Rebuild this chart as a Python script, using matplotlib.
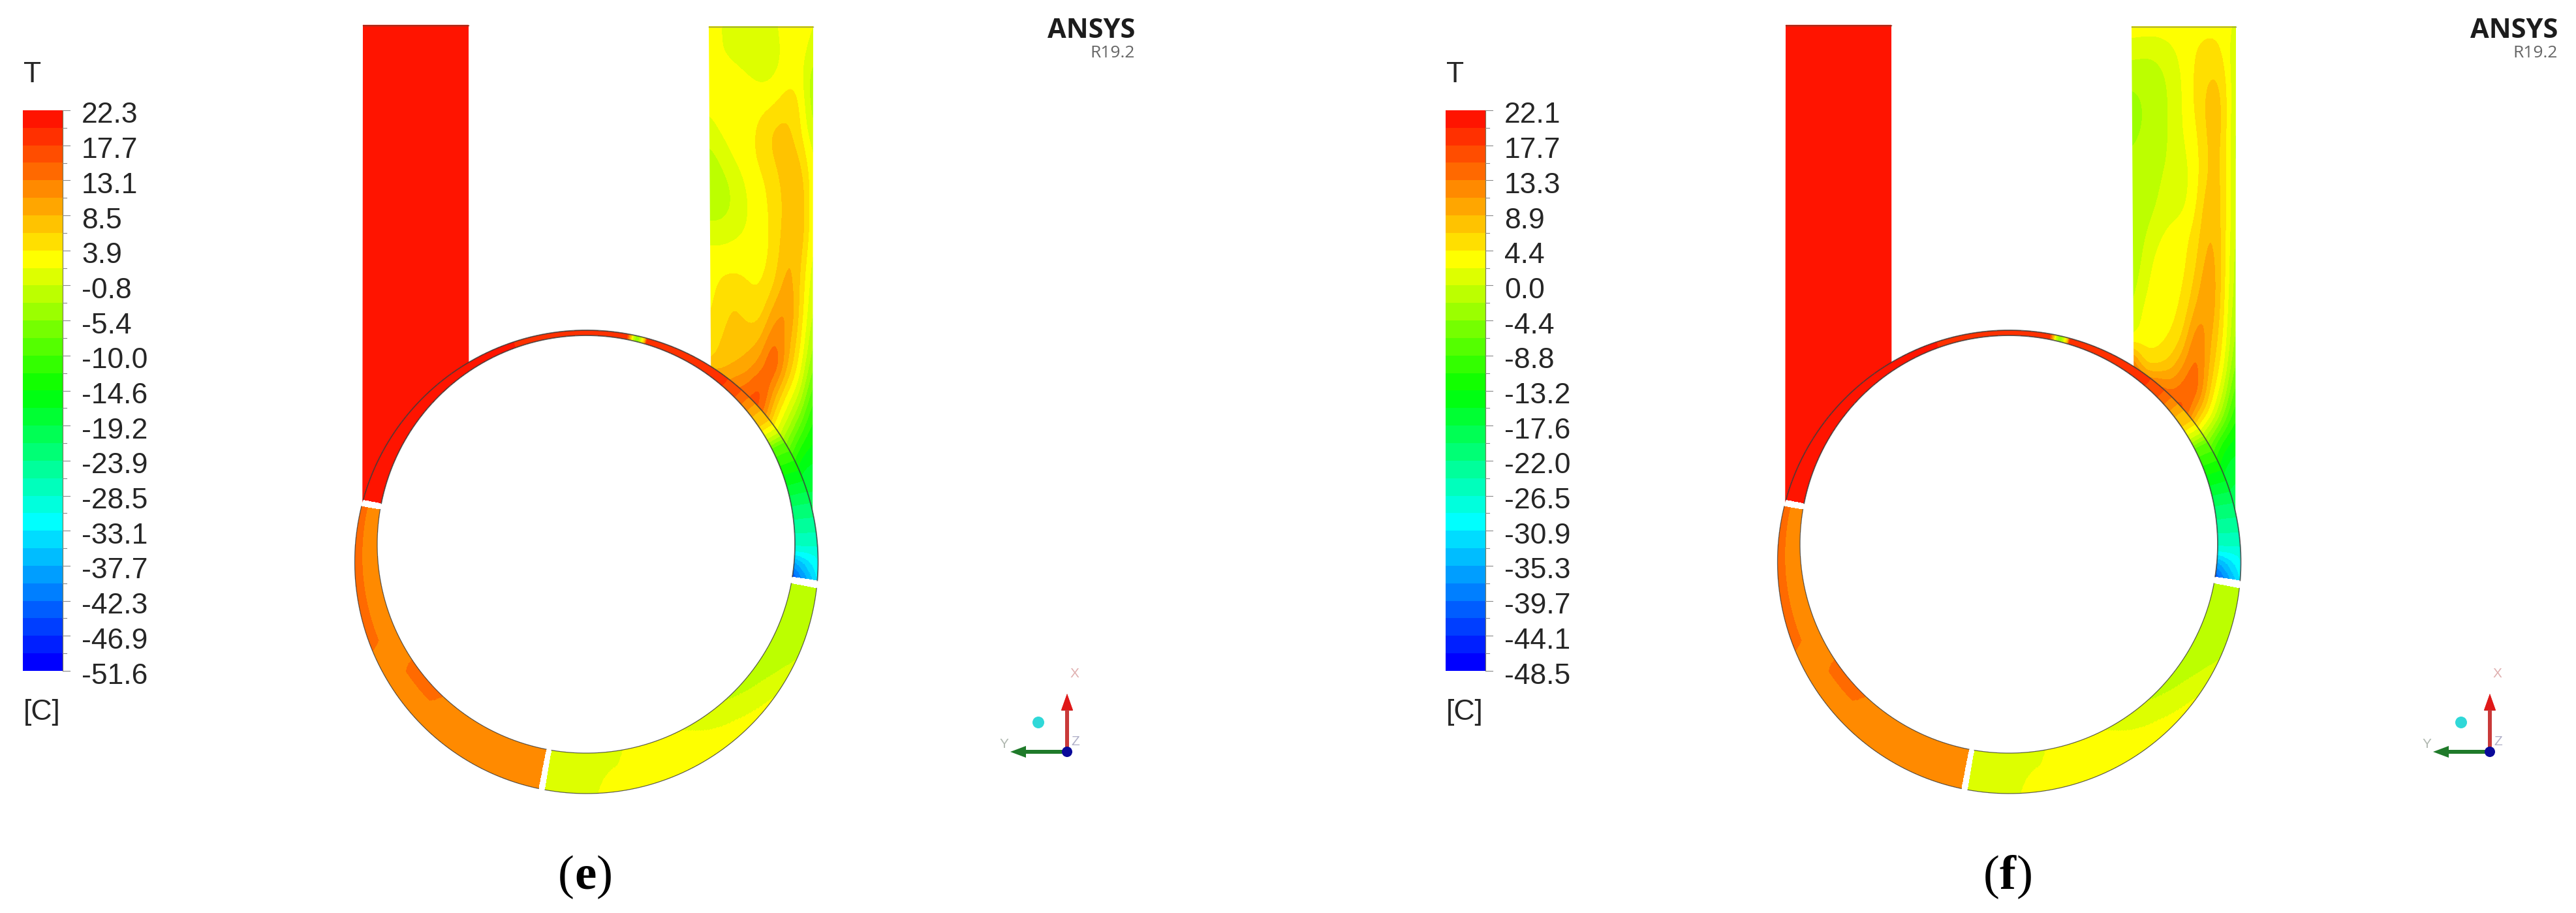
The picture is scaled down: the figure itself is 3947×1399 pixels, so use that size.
import numpy as np
import matplotlib
matplotlib.use("Agg")
import matplotlib.pyplot as plt
from matplotlib.colors import ListedColormap, BoundaryNorm, LinearSegmentedColormap
from matplotlib.patches import Polygon, Circle, FancyArrow

# ---------- data ----------
TICKS_E = ["22.3","17.7","13.1","8.5","3.9","-0.8","-5.4","-10.0","-14.6","-19.2","-23.9","-28.5","-33.1","-37.7","-42.3","-46.9","-51.6"]
TICKS_F = ["22.1","17.7","13.3","8.9","4.4","0.0","-4.4","-8.8","-13.2","-17.6","-22.0","-26.5","-30.9","-35.3","-39.7","-44.1","-48.5"]

OUTLET_E = [
 [2.5,1.5,0.8,0.3,0.3,1,3,3,1.5],
 [2.5,1.5,0.5,-0.5,-0.8,0,2.8,3,0],
 [3,3,3,2,1,1.5,3,3,-3],
 [2,3,3,3,3,3.5,5.5,4.5,-3],
 [0.5,2,3,3,4.5,7,7,4.5,-1],
 [-2,0,2,3,4.5,6.5,7.5,6.5,1],
 [-3,-2,0,2,3.2,5,7.5,8.5,1.5],
 [-2,-2,-0.5,1.5,3,4.5,7,9.5,1],
 [0.5,0.5,1.2,1.8,3,4.2,8,9,1],
 [3,3,3,3,3,4.5,9,7.5,0],
 [3,4.5,5,4,3.5,6,10.5,6.5,-1],
 [3.5,5,7,5,5,10,12,6,-2],
 [4,6.5,7.5,7.5,8,14,10,5,-4],
 [6,7.5,8,9,12,17.5,9,3,-6],
 [17,12,14,15,18,10,4,0,-10],
 [17,17,17,17,15,5,0,-6,-13],
 [17,17,17,15,5,0,-6,-12,-15],
 [17,17,15,8,0,-4,-10,-17,-18],
 [17,15,8,0,-4,-8,-14,-20,-20],
 [15,8,0,-4,-8,-10,-16,-20,-18],
]
OUTLET_F = [
 [3,3,3,3,3,3,3,3,1],
 [0,-0.5,-0.5,0.8,2.5,4,5,4,-1],
 [-2.5,-2.5,-1.5,-0.5,2,4.5,6.5,6,-1.5],
 [-4,-3,-2,-0.5,1.8,4.5,7.5,7,-2],
 [-3.5,-3,-2,-0.5,1.8,3.5,7.5,7,-2.5],
 [-3,-2.5,-1.5,-0.5,1,3,7,6.5,-2.5],
 [-2.5,-2.5,-1,0,0.5,3,7.5,6.5,-2],
 [-3,-2,-0.5,0.5,1,3.8,9,6,-2],
 [-3,-1,1,2.5,3,5,9.5,6,-2],
 [-3,0,2.5,3,3,6,10.5,6,-3],
 [-2,1,3,3,3.5,7.5,11.5,5.5,-3],
 [-1,2.5,3,3,4.5,10,11,5,-4],
 [0.5,3,3,3.8,6.5,14,9,4.5,-5],
 [17,4.5,5,7,11,15,8,3,-7],
 [18,18,17,13,15,16,6,0,-10],
 [17,17,17,18,18,7,3,-5,-13],
 [17,17,17,15,5,-2,-8,-14,-16],
 [17,17,15,8,0,-4,-10,-17,-19],
 [17,15,8,0,-4,-8,-14,-20,-20],
 [15,8,0,-4,-8,-10,-16,-20,-18],
]

# ring sectors: angle (deg about the inner circle), value at inner / outer edge
S1_ANG = [168.7,150,130,110,90,80,79,78,77,76,75,74,73.5,70,60,50,44,40,37,34,30,27,20,10,0,-2,-5,-8.9]
S1_IN  = [22,22,22,20,19,19,19,10,-2,-5,0,8,19,19,18,18,15,11,8,6,-1,-8,-14,-22,-28,-31,-38,-44]
S1_OUT = [22,22,22,20,19,19,19,10,-2,-5,0,8,19,19,18,18,15,11,8,6,-1,-8,-14,-22,-28,-30,-31,-33]

S2_ANG = [-10.8,-20,-30,-40,-50,-60,-70,-76,-82,-90,-99.5]
S2_IN  = [-3,-3,-3,-2,-0.5,1.2,2.5,2.5,1,1,1]
S2_OUT = [-3,-2,-0.5,1.8,3,3.4,3.4,3.4,2.5,1,1]

S3_ANG = [-101,-122,-130,-135,-145,-150,-155,-165,-175,-189.6]
S3_IN  = [12,12,12,13.6,13.6,12,12,12,12,12]
S3_OUT = [12,12,12,12,12,12,13.6,13.6,13.6,13.6]

# ---------- layout ----------
W, H = 3948, 1399
PANEL_DX = 2180
IN_C, IN_R = (898.0, 834.0), 320.0
OUT_C, OUT_R = (898.5, 861.0), 355.0

plt.rcParams['font.family'] = ['Liberation Sans', 'DejaVu Sans']
N = 32
rgb = LinearSegmentedColormap.from_list('fluent', [(0,(0,0,1)),(8/31,(0,1,1)),(15.5/31,(0,1,0)),(23/31,(1,1,0)),(1,(1,.08,0))])
cmap = ListedColormap([rgb(i/(N-1)) for i in range(N)])
cmap = cmap.with_extremes(over=cmap(N-1), under=cmap(0))
levels = np.linspace(-51.6, 22.3, N+1)
norm = BoundaryNorm(levels, N)
DARK = '#3a3a3a'

fig = plt.figure(figsize=(W/100, H/100), dpi=100, facecolor='white')
ax = fig.add_axes([0, 0, 1, 1])
ax.set_axis_off()

def ray_outer(th):
    """point on the outer circle along a ray from the inner centre"""
    c = np.array(IN_C); o = np.array(OUT_C)
    d = np.stack([np.cos(th), -np.sin(th)], axis=-1)
    f = c - o
    b = (d*f).sum(-1)
    s = -b + np.sqrt(b*b - (f*f).sum() + OUT_R**2)
    return c[0]+s*d[...,0], c[1]+s*d[...,1]

def ring(dx, ang, vin, vout, lw=0.9):
    a = np.linspace(ang[0], ang[-1], 1500)
    xp = np.array(ang)[::-1]
    vi = np.interp(a, xp, np.array(vin)[::-1])
    vo = np.interp(a, xp, np.array(vout)[::-1])
    s = np.linspace(0, 1, 31)
    th = np.radians(a)
    xi = IN_C[0] + IN_R*np.cos(th); yi = IN_C[1] - IN_R*np.sin(th)
    xo, yo = ray_outer(th)
    X = np.outer(1-s, xi) + np.outer(s, xo) + dx
    Y = np.outer(1-s, yi) + np.outer(s, yo)
    T = np.outer(1-s, vi) + np.outer(s, vo)
    ax.pcolormesh(X, Y, T[:-1,:-1], cmap=cmap, norm=norm, shading='flat', antialiased=False, rasterized=True, zorder=3)
    edge = dict(color=DARK, lw=lw, alpha=.8, zorder=4)
    ax.plot(X[0], Y[0], **edge); ax.plot(X[-1], Y[-1], **edge)

def outer_arc(dx, a0, a1, n=200):
    a = np.radians(np.linspace(a0, a1, n))
    return OUT_C[0]+OUT_R*np.cos(a)+dx, OUT_C[1]-OUT_R*np.sin(a)

def panel(dx, ticks, grid, letter):
    # inlet
    ix, iy = outer_arc(dx, 165.2, 120.5)
    pts = [(556+dx,38),(718+dx,38)] + list(zip(ix[::-1],iy[::-1])) 
    ax.add_patch(Polygon(pts, closed=True, fc=cmap(N-1), ec='none', zorder=1))
    ax.plot([556+dx,718+dx],[38.5,38.5], color='#7a4030', lw=1, zorder=2)
    # outlet field
    G = np.array(grid, float)
    x0, y0, cw, ch = 1086+dx, 40, 20, 40
    ex = (x0-cw/2, x0+cw*8+cw/2, y0+ch*19+ch/2, y0-ch/2)
    im = ax.imshow(G, cmap=cmap, norm=norm, extent=ex, aspect='auto', origin='upper',
                   interpolation='bicubic', interpolation_stage='data', zorder=1)
    ox, oy = outer_arc(dx, 12.5, 57.5)
    poly = Polygon([(1086+dx,40),(1246+dx,40)] + list(zip(ox,oy)), closed=True, transform=ax.transData, fc='none', ec='none')
    ax.add_patch(poly)
    im.set_clip_path(poly)
    ax.plot([1086+dx,1246+dx],[40.5,40.5], color='#8a8a50', lw=1, zorder=2)
    # rings
    ring(dx, S1_ANG, S1_IN, S1_OUT, lw=1.3)
    ring(dx, S2_ANG, S2_IN, S2_OUT)
    ring(dx, S3_ANG, S3_IN, S3_OUT)
    # colour bar
    bx0, bx1, by0, by1 = 35+dx, 96+dx, 169, 1028
    ax.imshow(np.array([(levels[:-1]+levels[1:])/2])[:, ::-1].T, cmap=cmap, norm=norm,
              extent=(bx0,bx1,by1,by0), aspect='auto', interpolation='nearest', zorder=2)
    ax.plot([bx1,bx1],[by0,by1], color='#777755', lw=.8, zorder=3)
    yb = np.linspace(by0, by1, N+1)
    for i, y in enumerate(yb):
        ax.plot([bx1, bx1+(11 if (i % 2 == 0) else 6)], [y, y], color='#888888', lw=.8, zorder=3)
    for i, t in enumerate(ticks):
        ax.text(125+dx, yb[2*i]+8, t, fontsize=32, ha='left', va='center', color='#262626')
    ax.text(36+dx, 114, 'T', fontsize=32, ha='left', va='center', color='#262626')
    ax.text(36+dx, 1092, '[C]', fontsize=32, ha='left', va='center', color='#262626')
    # logo
    ax.text(1739+dx, 47, 'ANSYS', fontsize=30, fontweight='bold', family=['Open Sans','DejaVu Sans'],
            ha='right', va='center', color='#1c1c1c')
    ax.text(1739+dx, 82, 'R19.2', fontsize=19, family=['Open Sans','DejaVu Sans'], ha='right', va='center', color='#666666')
    # triad
    ox_, oy_ = 1635+dx, 1152
    ax.add_patch(FancyArrow(ox_, oy_, 0, -89, width=6, head_width=18, head_length=26, length_includes_head=True,
                            fc='#c93a3a', ec='none', zorder=5))
    ax.add_patch(Polygon([(ox_-9,1088),(ox_+9,1088),(ox_,1063)], fc='#e01818', ec='none', zorder=6))
    ax.add_patch(FancyArrow(ox_, oy_, -87, 0, width=6, head_width=18, head_length=24, length_includes_head=True,
                            fc='#1f7a2a', ec='none', zorder=5))
    ax.add_patch(Circle((ox_, oy_), 8, fc='#0a0a9a', ec='none', zorder=7))
    ax.add_patch(Circle((1591+dx, 1107), 9, fc='#30d8d8', ec='none', zorder=7))
    ax.text(1646+dx, 1033, 'X', fontsize=15, color='#e0b0b0', ha='center', va='center')
    ax.text(1538+dx, 1140, 'Y', fontsize=15, color='#b0b8b0', ha='center', va='center')
    ax.text(1648+dx, 1137, 'Z', fontsize=15, color='#b0b0c8', ha='center', va='center', zorder=4)
    # caption
    w = {'e': 34, 'f': 26}[letter]
    xc = 897 + dx
    left = xc - (w + 50)/2
    serif = dict(fontsize=54, va='baseline', ha='left', color='black')
    ax.text(left, 1362, '(', family=['Liberation Serif'], **serif)
    ax.text(left+25, 1362, letter, family=['Liberation Serif'], fontweight='bold', **serif)
    ax.text(left+25+w, 1362, ')', family=['Liberation Serif'], **serif)

panel(0, TICKS_E, OUTLET_E, 'e')
panel(PANEL_DX, TICKS_F, OUTLET_F, 'f')

ax.set_xlim(0, W)
ax.set_ylim(H, 0)
fig.savefig('out.png', dpi=100, facecolor='white')
